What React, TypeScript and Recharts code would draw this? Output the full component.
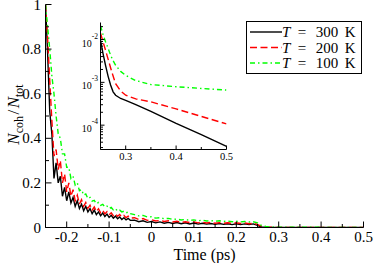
import React from "react";
import { LineChart, Line, XAxis, YAxis, Legend, Label } from "recharts";

// main panel, oscillating decay (ps)
const mainTime = [
  -0.25, -0.245, -0.24, -0.235, -0.23, -0.225, -0.22, -0.215, -0.21, -0.205,
  -0.2, -0.195, -0.19, -0.185, -0.18, -0.175, -0.17, -0.165, -0.16, -0.155,
  -0.15, -0.145, -0.14, -0.135, -0.13, -0.125, -0.12, -0.115, -0.11, -0.105,
  -0.1, -0.095, -0.09, -0.085, -0.08, -0.075, -0.07, -0.065, -0.06, -0.055,
  -0.05, -0.04, -0.03, -0.02, -0.01, 0, 0.01, 0.02, 0.03, 0.04,
  0.05, 0.06, 0.07, 0.08, 0.09, 0.1, 0.11, 0.12, 0.13, 0.14,
  0.15, 0.16, 0.17, 0.18, 0.19, 0.2, 0.21, 0.22, 0.23, 0.24,
];
const main300 = [
  1.0, 0.78, 0.52, 0.42, 0.22, 0.29, 0.2, 0.23, 0.14, 0.18,
  0.12, 0.16, 0.11, 0.135, 0.095, 0.12, 0.085, 0.105, 0.075, 0.095,
  0.07, 0.085, 0.062, 0.078, 0.058, 0.07, 0.053, 0.065, 0.049, 0.06,
  0.045, 0.055, 0.042, 0.051, 0.039, 0.047, 0.036, 0.044, 0.034, 0.041,
  0.032, 0.033, 0.026, 0.03, 0.023, 0.027, 0.021, 0.025, 0.019, 0.023,
  0.018, 0.022, 0.017, 0.021, 0.016, 0.02, 0.015, 0.019, 0.015, 0.018,
  0.014, 0.018, 0.014, 0.017, 0.013, 0.017, 0.013, 0.016, 0.013, 0.016,
];
const main200 = [
  1.0, 0.85, 0.66, 0.48, 0.32, 0.35, 0.26, 0.3, 0.2, 0.24,
  0.16, 0.2, 0.14, 0.17, 0.12, 0.145, 0.105, 0.125, 0.095, 0.112,
  0.086, 0.1, 0.078, 0.092, 0.071, 0.084, 0.066, 0.077, 0.061, 0.071,
  0.057, 0.066, 0.053, 0.062, 0.05, 0.058, 0.047, 0.054, 0.044, 0.051,
  0.042, 0.044, 0.036, 0.04, 0.032, 0.035, 0.029, 0.032, 0.027, 0.03,
  0.025, 0.028, 0.023, 0.026, 0.022, 0.025, 0.021, 0.024, 0.02, 0.023,
  0.019, 0.022, 0.019, 0.021, 0.018, 0.021, 0.018, 0.02, 0.017, 0.019,
];
const main100 = [
  1.0, 0.9, 0.8, 0.68, 0.6, 0.5, 0.42, 0.4, 0.33, 0.33,
  0.27, 0.27, 0.22, 0.23, 0.19, 0.2, 0.165, 0.17, 0.145, 0.15,
  0.13, 0.135, 0.118, 0.122, 0.107, 0.112, 0.099, 0.104, 0.092, 0.096,
  0.085, 0.09, 0.079, 0.084, 0.074, 0.078, 0.07, 0.073, 0.066, 0.069,
  0.062, 0.058, 0.052, 0.054, 0.047, 0.048, 0.042, 0.044, 0.039, 0.041,
  0.036, 0.038, 0.034, 0.036, 0.032, 0.034, 0.03, 0.033, 0.029, 0.031,
  0.028, 0.03, 0.027, 0.029, 0.026, 0.028, 0.025, 0.027, 0.025, 0.026,
];

// tail after the pulse, shown in the log inset
const tailTime = [0.25, 0.255, 0.26, 0.265, 0.27, 0.275, 0.28, 0.29, 0.3, 0.32, 0.35, 0.4, 0.45, 0.5];
const tail300 = [0.0095, 0.0047, 0.0025, 0.0014, 0.00087, 0.0006, 0.0005, 0.00042, 0.00038, 0.0003, 0.00021, 0.00011, 0.00006, 0.000032];
const tail200 = [0.014, 0.0089, 0.0056, 0.0035, 0.0022, 0.0014, 0.00093, 0.00063, 0.0005, 0.00041, 0.00035, 0.00024, 0.00016, 0.000107];
const tail100 = [0.021, 0.013, 0.0089, 0.0063, 0.0043, 0.0032, 0.0025, 0.0018, 0.00145, 0.0011, 0.00089, 0.00079, 0.00072, 0.00066];

const seriesNames = ["T = 300 K", "T = 200 K", "T = 100 K"];

const mainXTicks = [-0.25, -0.2, -0.15, -0.1, -0.05, 0, 0.05, 0.1, 0.15, 0.2, 0.25, 0.3, 0.35, 0.4, 0.45, 0.5];
const mainYTicks = [0, 0.1, 0.2, 0.3, 0.4, 0.5, 0.6, 0.7, 0.8, 0.9, 1];
const insetXTicks = [0.25, 0.3, 0.35, 0.4, 0.45, 0.5];
const insetYTicks = [
  3e-5, 4e-5, 5e-5, 6e-5, 7e-5, 8e-5, 9e-5,
  1e-4, 2e-4, 3e-4, 4e-4, 5e-4, 6e-4, 7e-4, 8e-4, 9e-4,
  1e-3, 2e-3, 3e-3, 4e-3, 5e-3, 6e-3, 7e-3, 8e-3, 9e-3,
  1e-2, 2e-2,
];

const mainData = [
  ...mainTime.map((t, i) => ({ t, k300: main300[i], k200: main200[i], k100: main100[i] })),
  ...tailTime.map((t, i) => ({ t, k300: tail300[i], k200: tail200[i], k100: tail100[i] })),
];
const insetData = tailTime.map((t, i) => ({ t, k300: tail300[i], k200: tail200[i], k100: tail100[i] }));

const SERIF = "Liberation Serif, DejaVu Serif, serif";
const INK = "#000";
const keys = ["k300", "k200", "k100"];
const dashes: Record<string, string | undefined> = { k300: undefined, k200: "7 3.5", k100: "5 3 1.5 3" };
const colors: Record<string, string> = { k300: "#000000", k200: "#ff0000", k100: "#00ff00" };

const onStep = (v: number, step: number) => Math.abs(v / step - Math.round(v / step)) < 1e-6;
const fmt = (v: number) => {
  const r = Math.round(v * 100) / 100;
  return r === 0 ? "0" : String(r);
};
const isDecade = (v: number) => onStep(Math.log10(v), 1);
const txt = { fontFamily: SERIF };

// ---- main ticks (pointing inward)
function MainBottomTick({ x, y, payload }: any) {
  const major = onStep(payload.value, 0.1);
  return (
    <g>
      <line x1={x} x2={x} y1={y} y2={y - (major ? 6 : 3.5)} stroke={INK} />
      {major && (
        <text x={x} y={y + 14.5} textAnchor="middle" fontSize={15} style={txt} fill={INK}>
          {fmt(payload.value)}
        </text>
      )}
    </g>
  );
}
function MainTopTick({ x, y, payload }: any) {
  const major = onStep(payload.value, 0.1);
  return <line x1={x} x2={x} y1={y} y2={y + (major ? 6 : 3.5)} stroke={INK} />;
}
function MainLeftTick({ x, y, payload }: any) {
  const major = onStep(payload.value, 0.2);
  return (
    <g>
      <line x1={x} x2={x + (major ? 6 : 3.5)} y1={y} y2={y} stroke={INK} />
      {major && (
        <text x={x - 4.5} y={y + 5} textAnchor="end" fontSize={15} style={txt} fill={INK}>
          {fmt(payload.value)}
        </text>
      )}
    </g>
  );
}
function MainRightTick({ x, y, payload }: any) {
  const major = onStep(payload.value, 0.2);
  return <line x1={x} x2={x - (major ? 6 : 3.5)} y1={y} y2={y} stroke={INK} />;
}

// ---- inset ticks
function InsetBottomTick({ x, y, payload }: any) {
  const major = onStep(payload.value, 0.1);
  return (
    <g>
      <line x1={x} x2={x} y1={y} y2={y - (major ? 4 : 2.5)} stroke={INK} />
      {major && (
        <text x={x} y={y + 10} textAnchor="middle" fontSize={10.5} style={txt} fill={INK}>
          {fmt(payload.value)}
        </text>
      )}
    </g>
  );
}
function InsetTopTick({ x, y, payload }: any) {
  const major = onStep(payload.value, 0.1);
  return <line x1={x} x2={x} y1={y} y2={y + (major ? 4 : 2.5)} stroke={INK} />;
}
function InsetLeftTick({ x, y, payload }: any) {
  const major = isDecade(payload.value);
  return (
    <g>
      <line x1={x} x2={x + (major ? 4 : 2.5)} y1={y} y2={y} stroke={INK} />
      {major && (
        <text x={x - 2.5} y={y + 7} textAnchor="end" fontSize={10} style={txt} fill={INK}>
          10
          <tspan dy={-8} fontSize={7.5}>
            {String(Math.round(Math.log10(payload.value)))}
          </tspan>
        </text>
      )}
    </g>
  );
}
function InsetRightTick({ x, y, payload }: any) {
  const major = isDecade(payload.value);
  return <line x1={x} x2={x - (major ? 4 : 2.5)} y1={y} y2={y} stroke={INK} />;
}

function XLabel({ viewBox }: any) {
  return (
    <text x={viewBox.x + viewBox.width / 2} y={viewBox.y + 32} textAnchor="middle" fontSize={16} style={txt} fill={INK}>
      Time (ps)
    </text>
  );
}
function YLabel({ viewBox }: any) {
  const cx = viewBox.x + 18.5;
  const cy = viewBox.y + viewBox.height / 2 - 1.5;
  return (
    <text x={cx} y={cy} transform={`rotate(-90, ${cx}, ${cy})`} textAnchor="middle" fontSize={17} style={txt} fill={INK}>
      <tspan fontStyle="italic">N</tspan>
      <tspan dy={4} fontSize={12}>coh</tspan>
      <tspan dy={-4} dx={1.5}>/</tspan>
      <tspan dx={1.5} fontStyle="italic">N</tspan>
      <tspan dy={4} fontSize={12}>tot</tspan>
    </text>
  );
}

function LegendBox({ payload }: any) {
  const items = [...(payload || [])].sort((a: any, b: any) => keys.indexOf(a.dataKey) - keys.indexOf(b.dataKey));
  return (
    <svg width={116} height={53} style={{ display: "block" }}>
      <rect x={0.5} y={0.5} width={115} height={52} fill="#fff" stroke={INK} />
      {items.map((e: any, i: number) => {
        const cy = 11 + i * 15.5;
        const [sym, eq, num, unit] = String(e.value).split(" ");
        return (
          <g key={String(e.dataKey)}>
            <line x1={4} x2={36} y1={cy} y2={cy} stroke={e.color} strokeWidth={1.4} strokeDasharray={dashes[e.dataKey]} />
            <text x={36} y={cy + 5} fontSize={15} style={txt} fill={INK}>
              <tspan fontStyle="italic">{sym}</tspan>
              <tspan dx={7.5}>{eq}</tspan>
              <tspan dx={9.5}>{num}</tspan>
              <tspan dx={6.5}>{unit}</tspan>
            </text>
          </g>
        );
      })}
    </svg>
  );
}

export default function App() {
  return (
    <div style={{ position: "absolute", left: 0, top: 0, width: 374, height: 263, background: "#fff", fontFamily: SERIF }}>
      <LineChart width={374} height={263} data={mainData} margin={{ top: 4.5, right: 10.5, bottom: 0, left: 0 }}>
        <XAxis xAxisId="b" dataKey="t" type="number" domain={[-0.25, 0.5]} allowDataOverflow ticks={mainXTicks} interval={0}
          height={35.5} tickSize={0} tickMargin={0} tickLine={false} tick={<MainBottomTick />} stroke={INK}>
          <Label content={<XLabel />} />
        </XAxis>
        <XAxis xAxisId="t" orientation="top" dataKey="t" type="number" domain={[-0.25, 0.5]} allowDataOverflow ticks={mainXTicks}
          interval={0} height={0} tickSize={0} tickMargin={0} tickLine={false} tick={<MainTopTick />} stroke={INK} />
        <YAxis yAxisId="l" type="number" domain={[0, 1]} allowDataOverflow ticks={mainYTicks} interval={0} width={45.5}
          tickSize={0} tickMargin={0} tickLine={false} tick={<MainLeftTick />} stroke={INK}>
          <Label content={<YLabel />} />
        </YAxis>
        <YAxis yAxisId="r" orientation="right" type="number" domain={[0, 1]} allowDataOverflow ticks={mainYTicks} interval={0}
          width={0} tickSize={0} tickMargin={0} tickLine={false} tick={<MainRightTick />} stroke={INK} />
        <Legend content={<LegendBox />} layout="horizontal" align="center" verticalAlign="middle"
          wrapperStyle={{ left: 246, top: 21, width: 116, height: 53 }} />
        {keys.map((k, i) => (
          <Line key={k} xAxisId="b" yAxisId="l" type="linear" dataKey={k} name={seriesNames[i]} stroke={colors[k]}
            strokeWidth={1.4} strokeDasharray={dashes[k]} dot={false} isAnimationActive={false} />
        ))}
      </LineChart>

      <div style={{ position: "absolute", left: 70, top: 18 }}>
        <LineChart width={170} height={150} data={insetData} margin={{ top: 4.5, right: 13.5, bottom: 0, left: 0 }}>
          <XAxis xAxisId="b" dataKey="t" type="number" domain={[0.25, 0.5]} allowDataOverflow ticks={insetXTicks} interval={0}
            height={18.5} tickSize={0} tickMargin={0} tickLine={false} tick={<InsetBottomTick />} stroke={INK} />
          <XAxis xAxisId="t" orientation="top" dataKey="t" type="number" domain={[0.25, 0.5]} allowDataOverflow ticks={insetXTicks}
            interval={0} height={0} tickSize={0} tickMargin={0} tickLine={false} tick={<InsetTopTick />} stroke={INK} />
          <YAxis yAxisId="l" type="number" scale="log" domain={[2.7e-5, 0.025]} allowDataOverflow ticks={insetYTicks} interval={0}
            width={30.5} tickSize={0} tickMargin={0} tickLine={false} tick={<InsetLeftTick />} stroke={INK} />
          <YAxis yAxisId="r" orientation="right" type="number" scale="log" domain={[2.7e-5, 0.025]} allowDataOverflow ticks={insetYTicks}
            interval={0} width={0} tickSize={0} tickMargin={0} tickLine={false} tick={<InsetRightTick />} stroke={INK} />
          {keys.map((k) => (
            <Line key={k} xAxisId="b" yAxisId="l" type="linear" dataKey={k} stroke={colors[k]} strokeWidth={1.4}
              strokeDasharray={dashes[k]} dot={false} isAnimationActive={false} />
          ))}
        </LineChart>
      </div>
    </div>
  );
}
